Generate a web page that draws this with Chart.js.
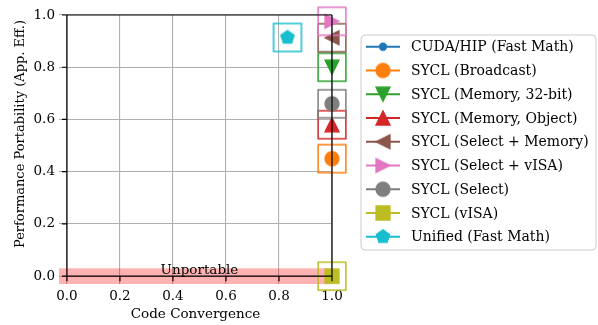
<!DOCTYPE html>
<html>
<head>
<meta charset="utf-8">
<script src="https://cdn.jsdelivr.net/npm/chart.js@4.4.1/dist/chart.umd.min.js"></script>
<style>
  html, body { margin: 0; padding: 0; background: #fff; }
  #wrap { width: 598px; height: 325px; }
</style>
</head>
<body>
<div id="wrap"><canvas id="navChart" width="598" height="325"></canvas></div>
<script>
// Navigation chart: code convergence vs. performance portability
var seriesLabels = [
  'CUDA/HIP (Fast Math)',
  'SYCL (Broadcast)',
  'SYCL (Memory, 32-bit)',
  'SYCL (Memory, Object)',
  'SYCL (Select + Memory)',
  'SYCL (Select + vISA)',
  'SYCL (Select)',
  'SYCL (vISA)',
  'Unified (Fast Math)'
];
var seriesColors = ['#1f77b4', '#ff7f0e', '#2ca02c', '#d62728', '#8c564b', '#e377c2', '#7f7f7f', '#bcbd22', '#17becf'];
var seriesMarkers = ['.', 'o', 'v', '^', '<', '>', 'o', 's', 'p'];
var convergence = [null, 1.0, 1.0, 1.0, 1.0, 1.0, 1.0, 1.0, 0.832];
var portability = [null, 0.45, 0.80, 0.58, 0.913, 0.976, 0.66, 0.0, 0.914];
var xTicks = [0.0, 0.2, 0.4, 0.6, 0.8, 1.0];
var yTicks = [0.0, 0.2, 0.4, 0.6, 0.8, 1.0];

var FONT = 'DejaVu Serif';
var FONT_SIZE = 13.5;
var PT = 100 / 72;   // points -> px

// draws a matplotlib-style marker into a small canvas, used as pointStyle
function markerPath(g, shape, size) {
  var h = size / 2;
  g.beginPath();
  if (shape === 'o') {
    g.arc(0, 0, h, 0, Math.PI * 2);
  } else if (shape === '.') {
    g.arc(0, 0, h / 2, 0, Math.PI * 2);
  } else if (shape === 's') {
    g.rect(-h, -h, size, size);
  } else if (shape === '^') {
    g.moveTo(0, -h); g.lineTo(-h, h); g.lineTo(h, h); g.closePath();
  } else if (shape === 'v') {
    g.moveTo(0, h); g.lineTo(-h, -h); g.lineTo(h, -h); g.closePath();
  } else if (shape === '<') {
    g.moveTo(-h, 0); g.lineTo(h, -h); g.lineTo(h, h); g.closePath();
  } else if (shape === '>') {
    g.moveTo(h, 0); g.lineTo(-h, -h); g.lineTo(-h, h); g.closePath();
  } else if (shape === 'p') {
    for (var k = 0; k < 5; k++) {
      var a = -Math.PI / 2 + k * 2 * Math.PI / 5;
      if (k === 0) g.moveTo(h * Math.cos(a), h * Math.sin(a));
      else g.lineTo(h * Math.cos(a), h * Math.sin(a));
    }
    g.closePath();
  }
}

function markerImage(shape, size, color, filled, lw) {
  var dim = Math.ceil(size + 2 * lw + 4);
  if (dim % 2) dim++;
  var c = document.createElement('canvas');
  c.width = dim; c.height = dim;
  var g = c.getContext('2d');
  g.translate(dim / 2, dim / 2);
  markerPath(g, shape, size);
  if (filled) { g.fillStyle = color; g.fill(); }
  g.strokeStyle = color;
  g.lineWidth = lw;
  g.lineJoin = 'miter';
  g.stroke();
  return c;
}

var markerSize = 10 * PT;
var boxSize = 20 * PT;
var markerImgs = seriesMarkers.map(function (m, i) {
  return markerImage(m, markerSize, seriesColors[i], true, 1 * PT);
});
var boxImgs = seriesColors.map(function (col) {
  return markerImage('s', boxSize, col, false, 1.5);
});

var datasets = [];
seriesLabels.forEach(function (name, i) {
  var pts = convergence[i] === null ? [] : [{ x: convergence[i], y: portability[i] }];
  datasets.push({
    label: name + ' box',
    data: pts,
    pointStyle: boxImgs[i],
    pointRadius: 14,
    clip: false,
    order: 20 - 2 * i
  });
  datasets.push({
    label: name,
    data: pts,
    pointStyle: markerImgs[i],
    pointRadius: 8,
    clip: false,
    order: 19 - 2 * i
  });
});

var decorations = {
  id: 'decorations',
  beforeDatasetsDraw: function (chart) {
    var ctx = chart.ctx, a = chart.chartArea;
    var ys = chart.scales.y;
    // unportable band
    ctx.save();
    ctx.fillStyle = 'rgba(255,0,0,0.3)';
    var t = ys.getPixelForValue(0.03), b = ys.getPixelForValue(-0.03);
    ctx.fillRect(a.left, t, a.right - a.left, b - t);
    ctx.restore();
  },
  afterDatasetsDraw: function (chart) {
    var ctx = chart.ctx;
    var xs = chart.scales.x, ys = chart.scales.y;
    var x0 = xs.getPixelForValue(0), x1 = xs.getPixelForValue(1);
    var y0 = ys.getPixelForValue(0), y1 = ys.getPixelForValue(1);
    ctx.save();
    // spines bounded to [0, 1]
    ctx.strokeStyle = '#000';
    ctx.lineWidth = 1.2;
    ctx.beginPath();
    ctx.moveTo(x0, y0); ctx.lineTo(x1, y0);
    ctx.moveTo(x1, y0); ctx.lineTo(x1, y1);
    ctx.moveTo(x0, y1); ctx.lineTo(x1, y1);
    ctx.moveTo(x0, y0); ctx.lineTo(x0, y1);
    ctx.stroke();
    // tick marks
    ctx.beginPath();
    xTicks.forEach(function (v) {
      var px = xs.getPixelForValue(v);
      ctx.moveTo(px, y0); ctx.lineTo(px, y0 + 5);
    });
    yTicks.forEach(function (v) {
      var py = ys.getPixelForValue(v);
      ctx.moveTo(x0 - 5, py); ctx.lineTo(x0, py);
    });
    ctx.stroke();

    ctx.fillStyle = '#000';
    ctx.font = FONT_SIZE + 'px "' + FONT + '"';
    ctx.textAlign = 'center';
    ctx.textBaseline = 'alphabetic';
    ctx.fillText('Unportable', xs.getPixelForValue(0.5), y0 - 2);

    // y axis title
    ctx.font = '13px "' + FONT + '"';
    ctx.translate(21, 134);
    ctx.rotate(-Math.PI / 2);
    ctx.textBaseline = 'middle';
    ctx.fillText('Performance Portability (App. Eff.)', 0, 0);
    ctx.restore();

    drawLegend(ctx);
  }
};

function drawLegend(ctx) {
  var L = 361, T = 35, R = 596, B = 250, r = 4;
  ctx.save();
  ctx.beginPath();
  ctx.moveTo(L + r, T);
  ctx.arcTo(R, T, R, B, r);
  ctx.arcTo(R, B, L, B, r);
  ctx.arcTo(L, B, L, T, r);
  ctx.arcTo(L, T, R, T, r);
  ctx.closePath();
  ctx.fillStyle = 'rgba(255,255,255,0.8)';
  ctx.fill();
  ctx.strokeStyle = '#cccccc';
  ctx.lineWidth = 1;
  ctx.stroke();

  ctx.font = '14px "' + FONT + '"';
  ctx.textAlign = 'left';
  ctx.textBaseline = 'middle';
  seriesLabels.forEach(function (name, i) {
    var cy = 46.7 + i * 23.75;
    ctx.strokeStyle = seriesColors[i];
    ctx.lineWidth = 1.5 * PT;
    ctx.beginPath();
    ctx.moveTo(366, cy); ctx.lineTo(400, cy);
    ctx.stroke();
    var img = markerImgs[i];
    ctx.drawImage(img, 383 - img.width / 2, cy - img.height / 2);
    ctx.fillStyle = '#000';
    ctx.fillText(name, 411, cy + 1);
  });
  ctx.restore();
}

var tickFont = { family: FONT, size: FONT_SIZE };

var ctx = document.getElementById('navChart').getContext('2d');
var navChart = new Chart(ctx, {
  type: 'scatter',
  data: { datasets: datasets },
  options: {
    responsive: false,
    animation: false,
    devicePixelRatio: 1,
    layout: { padding: { top: 14, right: 266, bottom: 0, left: 0 } },
    plugins: {
      legend: { display: false },
      tooltip: { enabled: false }
    },
    scales: {
      x: {
        type: 'linear',
        min: -0.03,
        max: 1.0,
        afterBuildTicks: function (s) { s.ticks = xTicks.map(function (v) { return { value: v }; }); },
        afterFit: function (s) { s.height = 41; },
        border: { display: false },
        grid: { color: '#b0b0b0', lineWidth: 1.1, drawTicks: false },
        ticks: {
          font: tickFont, color: '#000', padding: 4, maxRotation: 0,
          callback: function (v) { return Number(v).toFixed(1); }
        },
        title: { display: true, text: 'Code Convergence', font: tickFont, color: '#000', padding: 2 }
      },
      y: {
        type: 'linear',
        min: -0.03,
        max: 1.0,
        afterBuildTicks: function (s) { s.ticks = yTicks.map(function (v) { return { value: v }; }); },
        afterFit: function (s) { s.width = 59; },
        border: { display: false },
        grid: { color: '#b0b0b0', lineWidth: 1.1, drawTicks: false },
        ticks: {
          font: tickFont, color: '#000', padding: 4,
          callback: function (v) { return Number(v).toFixed(1); }
        }
      }
    }
  },
  plugins: [decorations]
});
</script>
</body>
</html>
